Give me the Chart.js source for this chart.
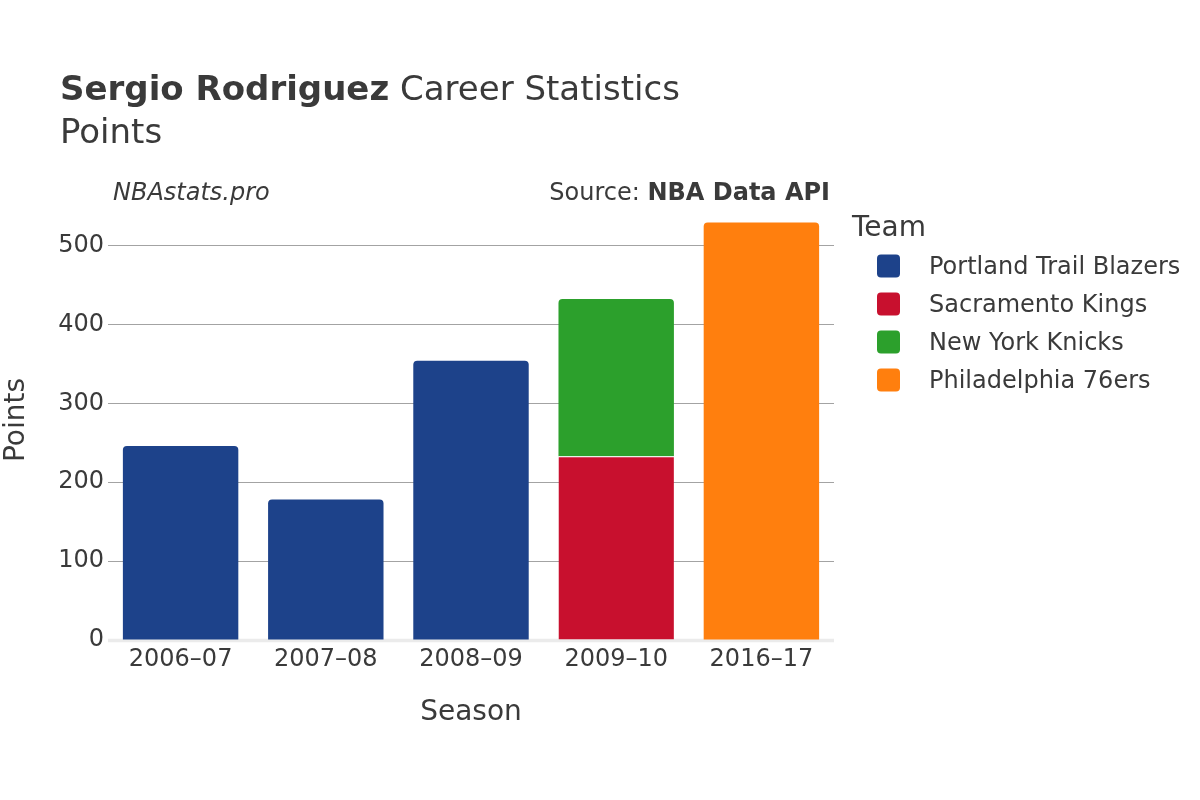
<!DOCTYPE html>
<html>
<head>
<meta charset="utf-8">
<script src="https://cdn.jsdelivr.net/npm/chart.js@4"></script>
<style>
html,body{margin:0;padding:0;background:#fff;}
canvas{display:block;}
</style>
</head>
<body>
<canvas id="c" width="1200" height="800"></canvas>
<script>
const seasons = ["2006\u201307", "2007\u201308", "2008\u201309", "2009\u201310", "2016\u201317"];
const teams = ["Portland Trail Blazers", "Sacramento Kings", "New York Knicks", "Philadelphia 76ers"];
const teamColors = ["#1d428a", "#c8102e", "#2ca02c", "#ff7f0e"];
const portland = [246, 178, 354, null, null];
const sacramento = [null, null, null, 233, null];
const knicks = [null, null, null, 199, null];
const philadelphia = [null, null, null, null, 529];
const yTicks = [0, 100, 200, 300, 400, 500];

const FONT = "'DejaVu Sans', Verdana, sans-serif";
const TXT = "#3a3a3a";

const seriesValues = [portland, sacramento, knicks, philadelphia];
const topBorder = [0, 1, 0, 0];

const overlay = {
  id: 'overlay',
  beforeDatasetsDraw(chart) {
    const c = chart.ctx, a = chart.chartArea;
    const y0 = chart.scales.y.getPixelForValue(0);
    c.save();
    c.strokeStyle = '#ebebeb';
    c.lineWidth = 3.5;
    c.beginPath();
    c.moveTo(a.left, y0 + 0.5);
    c.lineTo(a.right, y0 + 0.5);
    c.stroke();
    c.restore();
  },
  afterDraw(chart) {
    const c = chart.ctx, a = chart.chartArea;
    c.save();
    c.fillStyle = TXT;
    c.textBaseline = 'alphabetic';
    c.textAlign = 'left';
    // title
    c.font = "bold 34px " + FONT;
    const t1 = "Sergio Rodriguez";
    c.fillText(t1, 60, 100);
    const w1 = c.measureText(t1).width;
    c.font = "34px " + FONT;
    c.fillText(" Career Statistics", 60 + w1, 100);
    c.fillText("Points", 60, 143);
    // subtitle
    c.font = "italic 24px " + FONT;
    c.fillText("NBAstats.pro", 113, 200);
    c.font = "bold 24px " + FONT;
    const sb = "NBA Data API";
    const wb = c.measureText(sb).width;
    c.textAlign = 'right';
    c.fillText(sb, 830, 200);
    c.font = "24px " + FONT;
    c.fillText("Source: ", 830 - wb, 200);
    // axis titles
    c.textAlign = 'center';
    c.textBaseline = 'middle';
    c.font = "28px " + FONT;
    c.fillText("Season", (a.left + a.right) / 2, 713);
    c.save();
    c.translate(17, 420);
    c.rotate(-Math.PI / 2);
    c.fillText("Points", 0, 0);
    c.restore();
    // legend
    c.textAlign = 'left';
    c.textBaseline = 'alphabetic';
    c.font = "28px " + FONT;
    c.fillText("Team", 852, 236);
    c.font = "24px " + FONT;
    c.textBaseline = 'middle';
    teams.forEach((t, i) => {
      const cy = 266 + i * 38;
      c.fillStyle = teamColors[i];
      c.beginPath();
      c.roundRect(877, cy - 11.5, 23, 23, 4);
      c.fill();
      c.fillStyle = TXT;
      c.fillText(t, 929, cy + 2);
    });
    c.restore();
  }
};

new Chart(document.getElementById('c'), {
  type: 'bar',
  data: {
    labels: seasons,
    datasets: teams.map((t, i) => ({
      label: t,
      data: seriesValues[i],
      backgroundColor: teamColors[i],
      borderColor: '#ffffff',
      borderWidth: {top: topBorder[i], left: 0, right: 0, bottom: 0},
      borderRadius: 4,
      borderSkipped: 'start',
      categoryPercentage: 1.0,
      barPercentage: 0.795
    }))
  },
  options: {
    responsive: false,
    animation: false,
    events: [],
    layout: {padding: {left: 0, right: 366, top: 206, bottom: 0}},
    plugins: {legend: {display: false}, title: {display: false}, tooltip: {enabled: false}},
    scales: {
      x: {
        stacked: true,
        grid: {display: false, drawTicks: false},
        border: {display: false},
        ticks: {font: {family: FONT, size: 24}, color: TXT, padding: 5, maxRotation: 0},
        afterFit: s => { s.height = 160; }
      },
      y: {
        stacked: true,
        min: 0,
        max: 550,
        afterBuildTicks: s => { s.ticks = yTicks.map(v => ({value: v})); },
        grid: {
          drawTicks: false,
          color: ctx => (ctx.tick && ctx.tick.value === 0) ? 'rgba(0,0,0,0)' : '#a3a3a3',
          lineWidth: 1
        },
        border: {display: false},
        ticks: {font: {family: FONT, size: 24}, color: TXT, padding: 4},
        afterFit: s => { s.width = 108; }
      }
    }
  },
  plugins: [overlay]
});
</script>
</body>
</html>
